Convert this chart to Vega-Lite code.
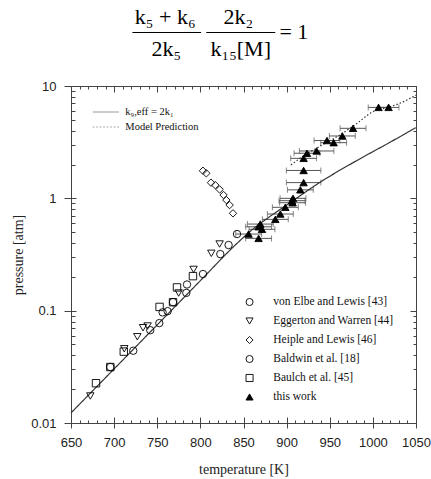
{
  "$schema": "https://vega.github.io/schema/vega-lite/v6.json",
  "padding": {"left": 11, "top": 0, "right": 12, "bottom": 4},
  "spacing": 16,
  "config": {
    "view": {"stroke": null},
    "axis": {"domainColor": "#444", "tickColor": "#444", "labelFont": "Liberation Sans", "labelFontSize": 13, "labelColor": "#222", "titleFont": "Liberation Serif", "titleFontSize": 14, "titleFontWeight": "normal", "titleColor": "#222", "grid": false}
  },
  "datasets": {
    "pts": [
      {"src": "von Elbe and Lewis [43]", "T": 695.6, "p": 0.0315},
      {"src": "von Elbe and Lewis [43]", "T": 741.9, "p": 0.067},
      {"src": "von Elbe and Lewis [43]", "T": 756.2, "p": 0.0966},
      {"src": "von Elbe and Lewis [43]", "T": 768.3, "p": 0.119},
      {"src": "von Elbe and Lewis [43]", "T": 784.5, "p": 0.171},
      {"src": "von Elbe and Lewis [43]", "T": 803, "p": 0.212},
      {"src": "von Elbe and Lewis [43]", "T": 823.1, "p": 0.319},
      {"src": "Baldwin et al. [18]", "T": 722.2, "p": 0.044},
      {"src": "Baldwin et al. [18]", "T": 752.4, "p": 0.0775},
      {"src": "Baldwin et al. [18]", "T": 762, "p": 0.099},
      {"src": "Baldwin et al. [18]", "T": 783.7, "p": 0.144},
      {"src": "Baldwin et al. [18]", "T": 832.7, "p": 0.384},
      {"src": "Baldwin et al. [18]", "T": 842.5, "p": 0.481},
      {"src": "Eggerton and Warren [44]", "T": 672.4, "p": 0.0174},
      {"src": "Eggerton and Warren [44]", "T": 711.8, "p": 0.0458},
      {"src": "Eggerton and Warren [44]", "T": 726.9, "p": 0.0586},
      {"src": "Eggerton and Warren [44]", "T": 733.5, "p": 0.0705},
      {"src": "Eggerton and Warren [44]", "T": 738.8, "p": 0.073},
      {"src": "Eggerton and Warren [44]", "T": 774.8, "p": 0.1436},
      {"src": "Eggerton and Warren [44]", "T": 792.1, "p": 0.233},
      {"src": "Eggerton and Warren [44]", "T": 812.7, "p": 0.324},
      {"src": "Eggerton and Warren [44]", "T": 822.3, "p": 0.392},
      {"src": "Baulch et al. [45]", "T": 679, "p": 0.0226},
      {"src": "Baulch et al. [45]", "T": 695.6, "p": 0.0315},
      {"src": "Baulch et al. [45]", "T": 711.2, "p": 0.0432},
      {"src": "Baulch et al. [45]", "T": 752.7, "p": 0.108},
      {"src": "Baulch et al. [45]", "T": 768.3, "p": 0.119},
      {"src": "Baulch et al. [45]", "T": 772.9, "p": 0.161},
      {"src": "Baulch et al. [45]", "T": 791.4, "p": 0.203},
      {"src": "Heiple and Lewis [46]", "T": 803, "p": 1.76},
      {"src": "Heiple and Lewis [46]", "T": 806.9, "p": 1.67},
      {"src": "Heiple and Lewis [46]", "T": 812.3, "p": 1.38},
      {"src": "Heiple and Lewis [46]", "T": 817.3, "p": 1.31},
      {"src": "Heiple and Lewis [46]", "T": 822.3, "p": 1.2},
      {"src": "Heiple and Lewis [46]", "T": 826.9, "p": 1.07},
      {"src": "Heiple and Lewis [46]", "T": 830.1, "p": 0.966},
      {"src": "Heiple and Lewis [46]", "T": 833.9, "p": 0.871},
      {"src": "Heiple and Lewis [46]", "T": 837.8, "p": 0.735},
      {"src": "this work", "T": 855.9, "p": 0.481, "lo": 841, "hi": 871},
      {"src": "this work", "T": 867.5, "p": 0.44, "lo": 852.5, "hi": 882.5},
      {"src": "this work", "T": 869.5, "p": 0.59, "lo": 854.5, "hi": 884.5},
      {"src": "this work", "T": 867.5, "p": 0.558, "lo": 852.5, "hi": 882.5},
      {"src": "this work", "T": 871.4, "p": 0.53, "lo": 856.4, "hi": 886.4},
      {"src": "this work", "T": 886.9, "p": 0.65, "lo": 871.9, "hi": 901.9},
      {"src": "this work", "T": 892.7, "p": 0.725, "lo": 877.7, "hi": 907.7},
      {"src": "this work", "T": 898.5, "p": 0.832, "lo": 883.5, "hi": 913.5},
      {"src": "this work", "T": 907.4, "p": 1.0, "lo": 892.4, "hi": 922.4},
      {"src": "this work", "T": 906.2, "p": 0.953, "lo": 891.2, "hi": 921.2},
      {"src": "this work", "T": 906.9, "p": 0.914, "lo": 891.9, "hi": 921.9},
      {"src": "this work", "T": 915.9, "p": 1.19, "lo": 900.9, "hi": 930.9},
      {"src": "this work", "T": 919.7, "p": 1.38, "lo": 899.7, "hi": 939.7},
      {"src": "this work", "T": 919.7, "p": 1.77, "lo": 899.7, "hi": 939.7},
      {"src": "this work", "T": 919.7, "p": 2.27, "lo": 904.7, "hi": 934.7},
      {"src": "this work", "T": 923.6, "p": 2.52, "lo": 908.6, "hi": 938.6},
      {"src": "this work", "T": 934.8, "p": 2.64, "lo": 914.8, "hi": 954.8},
      {"src": "this work", "T": 946.8, "p": 3.27, "lo": 931.8, "hi": 961.8},
      {"src": "this work", "T": 954.5, "p": 3.13, "lo": 939.5, "hi": 969.5},
      {"src": "this work", "T": 964.6, "p": 3.59, "lo": 949.6, "hi": 979.6},
      {"src": "this work", "T": 977, "p": 4.2, "lo": 962, "hi": 992},
      {"src": "this work", "T": 1006.6, "p": 6.45, "lo": 994.6, "hi": 1018.6},
      {"src": "this work", "T": 1018.2, "p": 6.45, "lo": 1006.2, "hi": 1030.2}
    ],
    "lines": [
      {"series": "k₉,eff = 2k₁", "T": 650, "p": 0.0123},
      {"series": "k₉,eff = 2k₁", "T": 700, "p": 0.0303},
      {"series": "k₉,eff = 2k₁", "T": 750, "p": 0.0748},
      {"series": "k₉,eff = 2k₁", "T": 800, "p": 0.185},
      {"series": "k₉,eff = 2k₁", "T": 840, "p": 0.381},
      {"series": "k₉,eff = 2k₁", "T": 860, "p": 0.525},
      {"series": "k₉,eff = 2k₁", "T": 880, "p": 0.684},
      {"series": "k₉,eff = 2k₁", "T": 900, "p": 0.871},
      {"series": "k₉,eff = 2k₁", "T": 940, "p": 1.41},
      {"series": "k₉,eff = 2k₁", "T": 980, "p": 2.14},
      {"series": "k₉,eff = 2k₁", "T": 1020, "p": 3.16},
      {"series": "k₉,eff = 2k₁", "T": 1050, "p": 4.27},
      {"series": "Model Prediction", "T": 905, "p": 1.98},
      {"series": "Model Prediction", "T": 920, "p": 2.4},
      {"series": "Model Prediction", "T": 940, "p": 2.95},
      {"series": "Model Prediction", "T": 960, "p": 3.6},
      {"series": "Model Prediction", "T": 980, "p": 4.55},
      {"series": "Model Prediction", "T": 1000, "p": 5.9},
      {"series": "Model Prediction", "T": 1015, "p": 6.4},
      {"series": "Model Prediction", "T": 1030, "p": 6.95},
      {"series": "Model Prediction", "T": 1050, "p": 8.3}
    ],
    "eq": [
      {"kind": "text", "t": "k₅ + k₆", "x": 27.3, "y": 24},
      {"kind": "text", "t": "2k₅", "x": 27.6, "y": 56},
      {"kind": "text", "t": "2k₂", "x": 48.5, "y": 24},
      {"kind": "text", "t": "k₁₅[M]", "x": 49.2, "y": 56},
      {"kind": "text", "t": "= 1", "x": 64.6, "y": 39},
      {"kind": "bar", "x": 17.8, "x2": 37.7, "y": 32.5},
      {"kind": "bar", "x": 39.2, "x2": 59.2, "y": 32.5}
    ]
  },
  "vconcat": [
    {
      "width": 345,
      "height": 64,
      "data": {"name": "eq"},
      "layer": [
        {
          "transform": [{"filter": "datum.kind == 'text'"}],
          "mark": {"type": "text", "font": "Liberation Serif", "fontSize": 22, "baseline": "alphabetic", "align": "center", "color": "black"},
          "encoding": {
            "x": {"field": "x", "type": "quantitative", "scale": {"domain": [0, 100]}, "axis": null},
            "y": {"field": "y", "type": "quantitative", "scale": {"domain": [64, 0]}, "axis": null},
            "text": {"field": "t"}
          }
        },
        {
          "transform": [{"filter": "datum.kind == 'bar'"}],
          "mark": {"type": "rule", "color": "black", "strokeWidth": 1.2},
          "encoding": {
            "x": {"field": "x", "type": "quantitative", "scale": {"domain": [0, 100]}, "axis": null},
            "x2": {"field": "x2"},
            "y": {"field": "y", "type": "quantitative", "scale": {"domain": [64, 0]}, "axis": null}
          }
        }
      ]
    },
    {
      "width": 345,
      "height": 337,
      "layer": [
        {
          "layer": [
            {
              "data": {"name": "pts"},
              "transform": [{"filter": "datum.src == 'this work'"}],
              "mark": {"type": "errorbar", "rule": {"color": "#555", "strokeWidth": 1}, "ticks": {"size": 6, "color": "#555"}},
              "encoding": {
                "x": {"field": "lo", "type": "quantitative", "title": "temperature [K]",
                  "scale": {"domain": [650, 1050], "nice": false, "zero": false},
                  "axis": {"orient": "bottom", "values": [650, 700, 750, 800, 850, 900, 950, 1000, 1050], "format": "d", "tickSize": 5, "labelPadding": 8, "labelOverlap": false, "labelFlush": false, "titlePadding": 13}},
                "x2": {"field": "hi"},
                "y": {"field": "p", "type": "quantitative", "title": "pressure [atm]",
                  "scale": {"type": "log", "domain": [0.01, 10], "nice": false},
                  "axis": {"orient": "left", "values": [0.01, 0.1, 1, 10], "format": "~g", "tickSize": 7, "labelPadding": 8, "labelOverlap": false, "labelFlush": false, "titlePadding": 5}}
              }
            },
            {
              "data": {"name": "lines"},
              "mark": {"type": "line", "color": "#333", "strokeWidth": 1.2, "interpolate": "monotone"},
              "encoding": {
                "x": {"field": "T", "type": "quantitative", "title": "temperature [K]",
                  "scale": {"domain": [650, 1050], "nice": false, "zero": false},
                  "axis": {"orient": "bottom", "values": [650, 700, 750, 800, 850, 900, 950, 1000, 1050], "format": "d", "tickSize": 5, "labelPadding": 8, "labelOverlap": false, "labelFlush": false, "titlePadding": 13}},
                "y": {"field": "p", "type": "quantitative", "title": "pressure [atm]",
                  "scale": {"type": "log", "domain": [0.01, 10], "nice": false},
                  "axis": {"orient": "left", "values": [0.01, 0.1, 1, 10], "format": "~g", "tickSize": 7, "labelPadding": 8, "labelOverlap": false, "labelFlush": false, "titlePadding": 5}},
                "strokeDash": {
                  "field": "series", "type": "nominal",
                  "scale": {"domain": ["k₉,eff = 2k₁", "Model Prediction"], "range": [[1, 0], [1.5, 2]]},
                  "legend": {"title": null, "orient": "none", "legendX": 21.3, "legendY": 106.5, "symbolType": "stroke", "symbolSize": 676, "symbolStrokeWidth": 0.8, "symbolStrokeColor": "#777", "labelFont": "Liberation Serif", "labelFontSize": 10.5, "labelColor": "#111", "labelOffset": 6, "rowPadding": 4, "clipHeight": 11, "padding": 0}
                }
              }
            },
            {
              "data": {"name": "pts"},
              "mark": {"type": "point", "strokeWidth": 0.9, "size": 55, "opacity": 1},
              "encoding": {
                "x": {
                  "field": "T", "type": "quantitative", "title": "temperature [K]",
                  "scale": {"domain": [650, 1050], "nice": false, "zero": false},
                  "axis": {"orient": "bottom", "values": [650, 700, 750, 800, 850, 900, 950, 1000, 1050], "format": "d", "tickSize": 5, "labelPadding": 8, "labelOverlap": false, "labelFlush": false, "titlePadding": 13}
                },
                "y": {
                  "field": "p", "type": "quantitative", "title": "pressure [atm]",
                  "scale": {"type": "log", "domain": [0.01, 10], "nice": false},
                  "axis": {"orient": "left", "values": [0.01, 0.1, 1, 10], "format": "~g", "tickSize": 7, "labelPadding": 8, "labelOverlap": false, "labelFlush": false, "titlePadding": 5}
                },
                "shape": {
                  "field": "src", "type": "nominal",
                  "scale": {"domain": ["von Elbe and Lewis [43]", "Eggerton and Warren [44]", "Heiple and Lewis [46]", "Baldwin et al. [18]", "Baulch et al. [45]", "this work"], "range": ["circle", "triangle-down", "diamond", "circle", "square", "triangle-up"]},
                  "legend": {"title": null, "orient": "none", "legendX": 172.8, "legendY": 296, "symbolSize": 50, "symbolStrokeWidth": 0.9, "labelFont": "Liberation Serif", "labelFontSize": 11.5, "labelColor": "#111", "labelOffset": 18, "rowPadding": 7, "clipHeight": 12, "padding": 0}
                },
                "fill": {
                  "field": "src", "type": "nominal",
                  "scale": {"domain": ["von Elbe and Lewis [43]", "Eggerton and Warren [44]", "Heiple and Lewis [46]", "Baldwin et al. [18]", "Baulch et al. [45]", "this work"], "range": ["transparent", "transparent", "transparent", "transparent", "transparent", "black"]},
                  "legend": {"title": null, "orient": "none", "legendX": 172.8, "legendY": 296, "symbolSize": 50, "symbolStrokeWidth": 0.9, "labelFont": "Liberation Serif", "labelFontSize": 11.5, "labelColor": "#111", "labelOffset": 18, "rowPadding": 7, "clipHeight": 12, "padding": 0}
                },
                "stroke": {
                  "field": "src", "type": "nominal",
                  "scale": {"domain": ["von Elbe and Lewis [43]", "Eggerton and Warren [44]", "Heiple and Lewis [46]", "Baldwin et al. [18]", "Baulch et al. [45]", "this work"], "range": ["black", "black", "black", "black", "black", "black"]},
                  "legend": {"title": null, "orient": "none", "legendX": 172.8, "legendY": 296, "symbolSize": 50, "symbolStrokeWidth": 0.9, "labelFont": "Liberation Serif", "labelFontSize": 11.5, "labelColor": "#111", "labelOffset": 18, "rowPadding": 7, "clipHeight": 12, "padding": 0}
                }
              }
            }
          ]
        },
        {
          "data": {"name": "lines"},
          "mark": {"type": "point", "opacity": 0},
          "encoding": {
            "x": {"field": "T", "type": "quantitative", "axis": {"orient": "top", "offset": -337, "domain": false, "values": [650,660,670,680,690,700,710,720,730,740,750,760,770,780,790,800,810,820,830,840,850,860,870,880,890,900,910,920,930,940,950,960,970,980,990,1000,1010,1020,1030,1040,1050], "labels": false, "title": null, "tickSize": {"condition": {"test": "datum.value % 50 === 0", "value": 6}, "value": 3}}},
            "y": {"field": "p", "type": "quantitative", "axis": {"orient": "right", "offset": -345, "domain": false, "values": [0.01,0.02,0.03,0.04,0.05,0.06,0.07,0.08,0.09,0.1,0.2,0.3,0.4,0.5,0.6,0.7,0.8,0.9,1,2,3,4,5,6,7,8,9,10], "labels": false, "title": null, "tickSize": {"condition": {"test": "indexof([0.01,0.1,1,10], datum.value) >= 0", "value": 5}, "value": 4}}}
          }
        },
        {
          "data": {"name": "lines"},
          "mark": {"type": "point", "opacity": 0},
          "encoding": {
            "x": {"field": "T", "type": "quantitative", "axis": {"orient": "bottom", "offset": -337, "values": [650,660,670,680,690,700,710,720,730,740,750,760,770,780,790,800,810,820,830,840,850,860,870,880,890,900,910,920,930,940,950,960,970,980,990,1000,1010,1020,1030,1040,1050], "labels": false, "title": null, "tickSize": {"condition": {"test": "datum.value % 50 === 0", "value": 6}, "value": 3}}},
            "y": {"field": "p", "type": "quantitative", "axis": {"orient": "left", "offset": -345, "values": [0.01,0.02,0.03,0.04,0.05,0.06,0.07,0.08,0.09,0.1,0.2,0.3,0.4,0.5,0.6,0.7,0.8,0.9,1,2,3,4,5,6,7,8,9,10], "labels": false, "title": null, "tickSize": {"condition": {"test": "indexof([0.01,0.1,1,10], datum.value) >= 0", "value": 6}, "value": 3}}}
          }
        }
      ],
      "resolve": {"axis": {"x": "independent", "y": "independent"}}
    }
  ]
}
